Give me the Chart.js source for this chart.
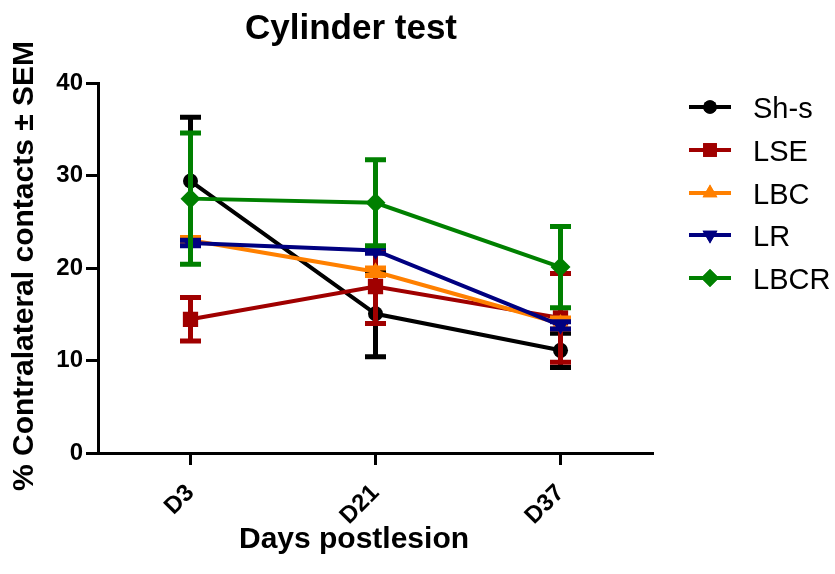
<!DOCTYPE html>
<html><head><meta charset="utf-8">
<script src="https://cdn.jsdelivr.net/npm/chart.js@4"></script>
<style>html,body{margin:0;padding:0;background:#fff}</style>
</head><body>
<canvas id="c" width="835" height="574"></canvas>
<script>
const categories = ['D3', 'D21', 'D37'];
const seriesNames = ['Sh-s', 'LSE', 'LBC', 'LR', 'LBCR'];
const shsMean = [29.4, 15.05, 11.1];
const shsSem = [6.9, 4.65, 1.85];
const lseMean = [14.45, 18.0, 14.6];
const lseSem = [2.35, 4.0, 4.8];
const lbcMean = [23.0, 19.6, 14.0];
const lbcSem = [0.3, 0.4, 0.6];
const lrMean = [22.7, 21.9, 13.8];
const lrSem = [0.3, 0.3, 0.4];
const lbcrMean = [27.5, 27.05, 20.1];
const lbcrSem = [7.1, 4.65, 4.4];
const yTicks = [0, 10, 20, 30, 40];
const titleText = 'Cylinder test';
const xTitle = 'Days postlesion';
const yTitle = '% Contralateral contacts \u00B1 SEM';

const FONT = "'Liberation Sans', Arial, sans-serif";
const styles = [
  {color: '#000000', pointStyle: 'circle', radius: 7.5, rotation: 0},
  {color: '#A00000', pointStyle: 'rect', radius: 10.8, rotation: 0},
  {color: '#FF8000', pointStyle: 'triangle', radius: 9.5, rotation: 0},
  {color: '#000080', pointStyle: 'triangle', radius: 9.5, rotation: 180},
  {color: '#008000', pointStyle: 'rectRot', radius: 10, rotation: 0}
];
const means = [shsMean, lseMean, lbcMean, lrMean, lbcrMean];
const sems = [shsSem, lseSem, lbcSem, lrSem, lbcrSem];

const datasets = seriesNames.map((name, i) => ({
  label: name,
  data: means[i],
  sem: sems[i],
  borderColor: styles[i].color,
  backgroundColor: styles[i].color,
  pointBackgroundColor: styles[i].color,
  pointBorderColor: styles[i].color,
  pointBorderWidth: 0,
  pointStyle: styles[i].pointStyle,
  pointRadius: styles[i].radius,
  pointRotation: styles[i].rotation,
  borderWidth: 4,
  tension: 0,
  order: seriesNames.length - i
}));

const errorBars = {
  id: 'errorBars',
  beforeDatasetDraw(chart, args) {
    const ds = chart.data.datasets[args.index];
    const meta = chart.getDatasetMeta(args.index);
    const y = chart.scales.y;
    const ctx = chart.ctx;
    ctx.save();
    ctx.strokeStyle = ds.borderColor;
    ctx.lineWidth = 5;
    meta.data.forEach((pt, j) => {
      const v = ds.data[j], e = ds.sem[j];
      const yt = y.getPixelForValue(v + e), yb = y.getPixelForValue(v - e);
      const x = pt.x;
      ctx.beginPath();
      ctx.moveTo(x, yt); ctx.lineTo(x, yb);
      ctx.moveTo(x - 10.5, yt); ctx.lineTo(x + 10.5, yt);
      ctx.moveTo(x - 10.5, yb); ctx.lineTo(x + 10.5, yb);
      ctx.stroke();
    });
    ctx.restore();
  }
};

const texts = {
  id: 'texts',
  afterDraw(chart) {
    const ctx = chart.ctx;
    ctx.save();
    ctx.fillStyle = '#000';
    ctx.textAlign = 'center';
    ctx.textBaseline = 'alphabetic';
    ctx.font = 'bold 35px ' + FONT;
    ctx.fillText(titleText, 351, 39);
    ctx.font = 'bold 30px ' + FONT;
    ctx.fillText(xTitle, 354, 548);
    ctx.save();
    ctx.translate(33, 266);
    ctx.rotate(-Math.PI / 2);
    ctx.fillText(yTitle, 0, 0);
    ctx.restore();
    // legend
    const rows = [107, 150, 193, 235, 278];
    chart.data.datasets.forEach((ds, i) => {
      const yy = rows[i];
      ctx.strokeStyle = ds.borderColor;
      ctx.lineWidth = 4;
      ctx.beginPath();
      ctx.moveTo(689, yy); ctx.lineTo(731, yy);
      ctx.stroke();
      ctx.fillStyle = ds.borderColor;
      Chart.helpers.drawPoint(ctx, {pointStyle: ds.pointStyle, radius: ds.pointRadius * 0.9, rotation: ds.pointRotation, borderWidth: 0}, 710, yy);
      ctx.fill();
      ctx.fillStyle = '#000';
      ctx.textAlign = 'left';
      ctx.font = '29px ' + FONT;
      ctx.fillText(ds.label, 753, yy + 10.5);
    });
    ctx.restore();
  }
};

new Chart(document.getElementById('c'), {
  type: 'line',
  data: {labels: categories, datasets: datasets},
  options: {
    responsive: false,
    animation: false,
    devicePixelRatio: 1,
    layout: {padding: {left: 0, right: 182, top: 83, bottom: 0}},
    plugins: {legend: {display: false}, title: {display: false}, tooltip: {enabled: false}},
    scales: {
      x: {
        type: 'category',
        offset: true,
        border: {display: true, color: '#000', width: 3},
        grid: {display: true, drawOnChartArea: false, drawTicks: true, tickLength: 12, tickWidth: 3, tickColor: '#000', offset: false},
        ticks: {color: '#000', font: {family: FONT, size: 24, weight: 'bold'}, minRotation: 45, maxRotation: 45, padding: 14},
        afterFit(s) { s.height = 121; }
      },
      y: {
        min: 0, max: 40,
        afterBuildTicks(s) { s.ticks = yTicks.map(v => ({value: v})); },
        border: {display: true, color: '#000', width: 3},
        grid: {display: true, drawOnChartArea: false, drawTicks: true, tickLength: 12, tickWidth: 3, tickColor: '#000'},
        ticks: {color: '#000', font: {family: FONT, size: 24, weight: 'bold'}, padding: 3},
        afterFit(s) { s.width = 98; }
      }
    }
  },
  plugins: [errorBars, texts]
});
</script>
</body></html>
